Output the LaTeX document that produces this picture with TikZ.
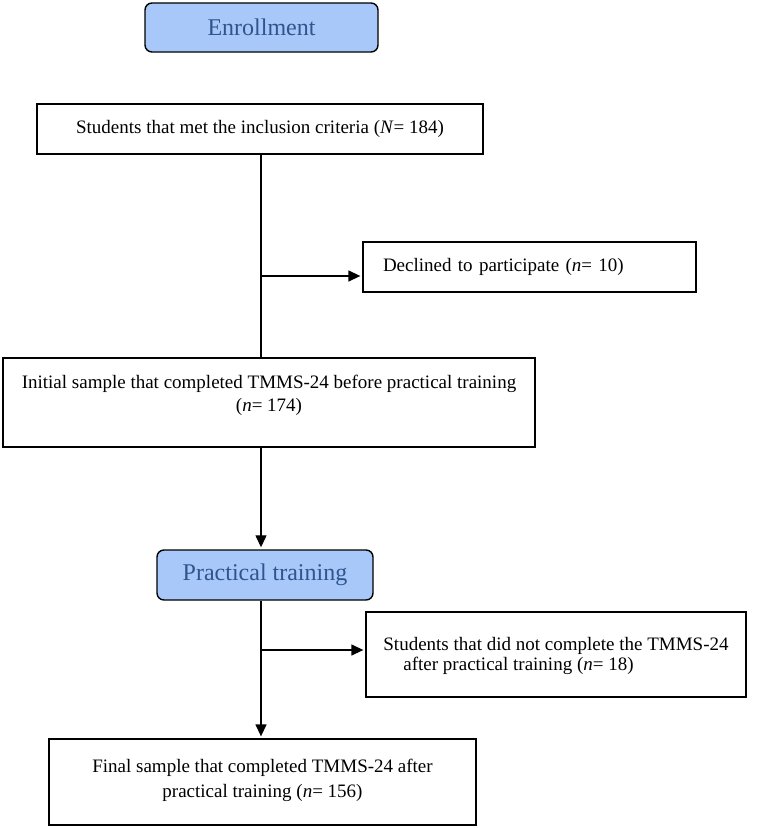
\documentclass[tikz,border=0pt]{standalone}
\usepackage{fontspec}
\setmainfont{Liberation Serif}
\usetikzlibrary{arrows.meta}
\definecolor{phasefill}{RGB}{168,200,250}
\definecolor{phasetext}{RGB}{47,85,140}
\tikzset{
  phase/.style={draw=black, line width=1.4pt, rounded corners=7pt, fill=phasefill,
    text=phasetext, font=\fontsize{24}{28}\selectfont, inner sep=0pt},
  stepbox/.style={draw=black, line width=1.3pt, inner sep=0pt,
    font=\fontsize{19}{23}\selectfont, align=center},
  conn/.style={line width=1.3pt},
  arr/.style={line width=1.3pt, -{Triangle[length=12pt,width=11pt]}, shorten >=2pt},
}
\begin{document}
\begin{tikzpicture}[x=1pt,y=-1pt]
\useasboundingbox (0,0) rectangle (765,828);
% phases
\node[phase, minimum width=233pt, minimum height=49pt] (enr) at (261.5,27.5) {Enrollment};
\node[phase, minimum width=216pt, minimum height=50pt] (pt) at (265,575) {Practical training};
% boxes
\node[stepbox, minimum width=446pt, minimum height=50pt] (b1) at (260,129)
  {Students that met the inclusion criteria (\textit{N}= 184)};
\node[stepbox, text width=293pt, inner xsep=20pt, align=left, minimum height=50pt] (dec) at (529.5,267)
  {Declined to participate (\textit{n}= 10)};
\node[stepbox, minimum width=532pt, minimum height=89pt] (b3) at (269,402.5)
  {Initial sample that completed TMMS-24 before practical training\\(\textit{n}= 174)\\[-4pt]~};
\node[stepbox, align=left, minimum width=380pt, minimum height=85pt, font=\fontsize{19}{20}\selectfont] (dnc) at (556,654.5)
  {Students that did not complete the TMMS-24\\\hspace*{20pt}after practical training (\textit{n}= 18)\\[-18pt]~};
\node[stepbox, minimum width=427pt, minimum height=86pt, font=\fontsize{19}{25}\selectfont] (fin) at (262.5,782)
  {Final sample that completed TMMS-24 after\\practical training (\textit{n}= 156)\\[-17pt]~};
% connectors
\coordinate (j1) at (261,276);
\coordinate (j2) at (261,650);
\draw[conn] (b1.south -| j1) -- (b3.north -| j1);
\draw[arr] (j1) -- (dec.west |- j1);
\draw[arr] (b3.south -| j1) -- (pt.north -| j1);
\draw[arr] (pt.south -| j2) -- (fin.north -| j2);
\draw[arr] (j2) -- (dnc.west |- j2);
\end{tikzpicture}
\end{document}
